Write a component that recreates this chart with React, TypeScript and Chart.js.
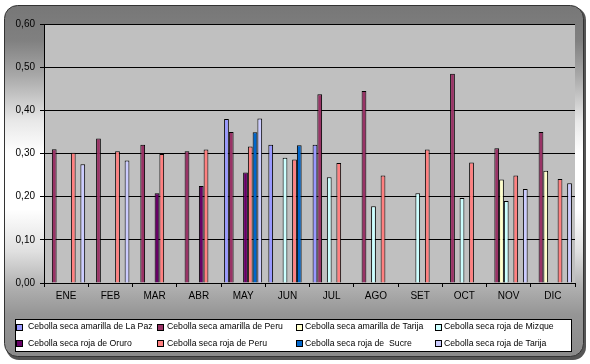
import React, { useEffect, useRef } from "react";
import { Chart, registerables } from "chart.js";

Chart.register(...registerables);

const months = ["ENE", "FEB", "MAR", "ABR", "MAY", "JUN", "JUL", "AGO", "SET", "OCT", "NOV", "DIC"];

const seriesNames = [
  "Cebolla seca amarilla de La Paz",
  "Cebolla seca amarilla de Peru",
  "Cebolla seca amarilla de Tarija",
  "Cebolla seca roja de Mizque",
  "Cebolla seca roja de Oruro",
  "Cebolla seca roja de Peru",
  "Cebolla seca roja de  Sucre",
  "Cebolla seca roja de Tarija",
];

const amarillaLaPaz = [null, null, null, null, 0.38, 0.32, 0.32, null, null, null, null, null];
const amarillaPeru = [0.31, 0.335, 0.32, 0.305, 0.35, null, 0.437, 0.445, null, 0.485, 0.312, 0.35];
const amarillaTarija = [null, null, null, null, null, null, null, null, null, null, 0.24, 0.26];
const rojaMizque = [null, null, null, null, null, 0.29, 0.245, 0.178, 0.208, 0.197, 0.19, null];
const rojaOruro = [null, null, 0.208, 0.225, 0.256, null, null, null, null, null, null, null];
const rojaPeru = [0.302, 0.305, 0.299, 0.309, 0.316, 0.286, 0.278, 0.249, 0.309, 0.279, 0.249, 0.241];
const rojaSucre = [null, null, null, null, 0.349, 0.319, null, null, null, null, null, null];
const rojaTarija = [0.275, 0.284, null, null, 0.381, null, null, null, null, null, 0.218, 0.231];

const seriesValues = [amarillaLaPaz, amarillaPeru, amarillaTarija, rojaMizque, rojaOruro, rojaPeru, rojaSucre, rojaTarija];
const seriesColors = ["#9999FF", "#993366", "#FFFFCC", "#CCFFFF", "#660066", "#FF8080", "#0066CC", "#CCCCFF"];

const yTicks = [0, 0.1, 0.2, 0.3, 0.4, 0.5, 0.6];

const FONT = "Arial, 'Liberation Sans', sans-serif";

function roundRect(ctx: CanvasRenderingContext2D, x: number, y: number, w: number, h: number, r: number) {
  ctx.beginPath();
  ctx.moveTo(x + r, y);
  ctx.lineTo(x + w - r, y);
  ctx.arcTo(x + w, y, x + w, y + r, r);
  ctx.lineTo(x + w, y + h - r);
  ctx.arcTo(x + w, y + h, x + w - r, y + h, r);
  ctx.lineTo(x + r, y + h);
  ctx.arcTo(x, y + h, x, y + h - r, r);
  ctx.lineTo(x, y + r);
  ctx.arcTo(x, y, x + r, y, r);
  ctx.closePath();
}

const framePlugin = {
  id: "frame",
  beforeDraw(chart: any) {
    const ctx = chart.ctx as CanvasRenderingContext2D;
    const { chartArea } = chart;
    ctx.save();
    roundRect(ctx, 6, 7, 580, 353, 13);
    ctx.fillStyle = "#555";
    ctx.fill();
    const g = ctx.createLinearGradient(0, 5, 0, 357);
    g.addColorStop(0, "#777777");
    g.addColorStop(0.1, "#808080");
    g.addColorStop(0.2, "#a8a8a8");
    g.addColorStop(0.33, "#e8e8e8");
    g.addColorStop(0.42, "#ffffff");
    g.addColorStop(0.58, "#ffffff");
    g.addColorStop(0.7, "#e0e0e0");
    g.addColorStop(0.8, "#b0b0b0");
    g.addColorStop(0.88, "#959595");
    g.addColorStop(1, "#8a8a8a");
    roundRect(ctx, 4.5, 5.5, 579, 351, 13);
    ctx.fillStyle = g;
    ctx.fill();
    ctx.lineWidth = 1;
    ctx.strokeStyle = "#333";
    ctx.stroke();
    ctx.fillStyle = "#C0C0C0";
    ctx.fillRect(chartArea.left, chartArea.top, chartArea.right - chartArea.left, chartArea.bottom - chartArea.top);
    ctx.restore();
  },
  afterDraw(chart: any) {
    const ctx = chart.ctx as CanvasRenderingContext2D;
    ctx.save();
    ctx.fillStyle = "#ffffff";
    ctx.fillRect(15, 319, 557, 33);
    ctx.strokeStyle = "#000";
    ctx.lineWidth = 1;
    ctx.strokeRect(15.5, 319.5, 556, 32);
    const boxX = [16, 157, 296, 435];
    const textX = [28, 167, 305, 444];
    const rowY = [326.5, 343];
    ctx.font = "8.7px " + FONT;
    ctx.textBaseline = "middle";
    ctx.textAlign = "left";
    chart.data.datasets.forEach((ds: any, i: number) => {
      const c = i % 4;
      const r = Math.floor(i / 4);
      const x = boxX[c];
      const y = rowY[r];
      ctx.fillStyle = ds.backgroundColor;
      ctx.fillRect(x + 0.5, Math.round(y - 3) + 0.5, 6, 6);
      ctx.strokeStyle = "#000";
      ctx.strokeRect(x + 0.5, Math.round(y - 3) + 0.5, 6, 6);
      ctx.fillStyle = "#000";
      ctx.fillText(ds.label, textX[c], y + 0.5);
    });
    ctx.restore();
  },
};

export default function App() {
  const ref = useRef<HTMLCanvasElement | null>(null);
  useEffect(() => {
    document.body.style.margin = "0";
    const canvas = ref.current;
    if (!canvas) return;
    const chart = new Chart(canvas, {
      type: "bar",
      data: {
        labels: months,
        datasets: seriesNames.map((name, i) => ({
          label: name,
          data: seriesValues[i],
          backgroundColor: seriesColors[i],
          borderColor: "#000000",
          borderWidth: 1,
          borderSkipped: "bottom",
          barPercentage: 1,
          categoryPercentage: 0.86,
        })),
      },
      options: {
        responsive: false,
        animation: false,
        devicePixelRatio: 1,
        layout: { padding: { left: 0, right: 15, top: 24, bottom: 61 } },
        plugins: { legend: { display: false }, tooltip: { enabled: false } },
        scales: {
          x: {
            offset: true,
            grid: {
              offset: true,
              drawOnChartArea: false,
              drawTicks: true,
              tickLength: 4,
              color: "#000",
            },
            border: { display: true, color: "#000", width: 1 },
            ticks: { color: "#000", font: { family: FONT, size: 10 }, padding: 3, maxRotation: 0 },
            afterFit: (s: any) => {
              s.height = 20;
            },
          },
          y: {
            min: 0,
            max: 0.6,
            afterBuildTicks: (s: any) => {
              s.ticks = yTicks.map((v) => ({ value: v }));
            },
            grid: { color: "#000", lineWidth: 1, drawTicks: true, tickLength: 4 },
            border: { display: true, color: "#000", width: 1 },
            ticks: {
              color: "#000",
              font: { family: FONT, size: 10 },
              padding: 5,
              callback: (v: any) => Number(v).toFixed(2).replace(".", ","),
            },
            afterFit: (s: any) => {
              s.width = 44;
            },
          },
        },
      },
      plugins: [framePlugin],
    });
    return () => chart.destroy();
  }, []);
  return <canvas ref={ref} width={590} height={364} style={{ display: "block", width: 590, height: 364 }} />;
}
